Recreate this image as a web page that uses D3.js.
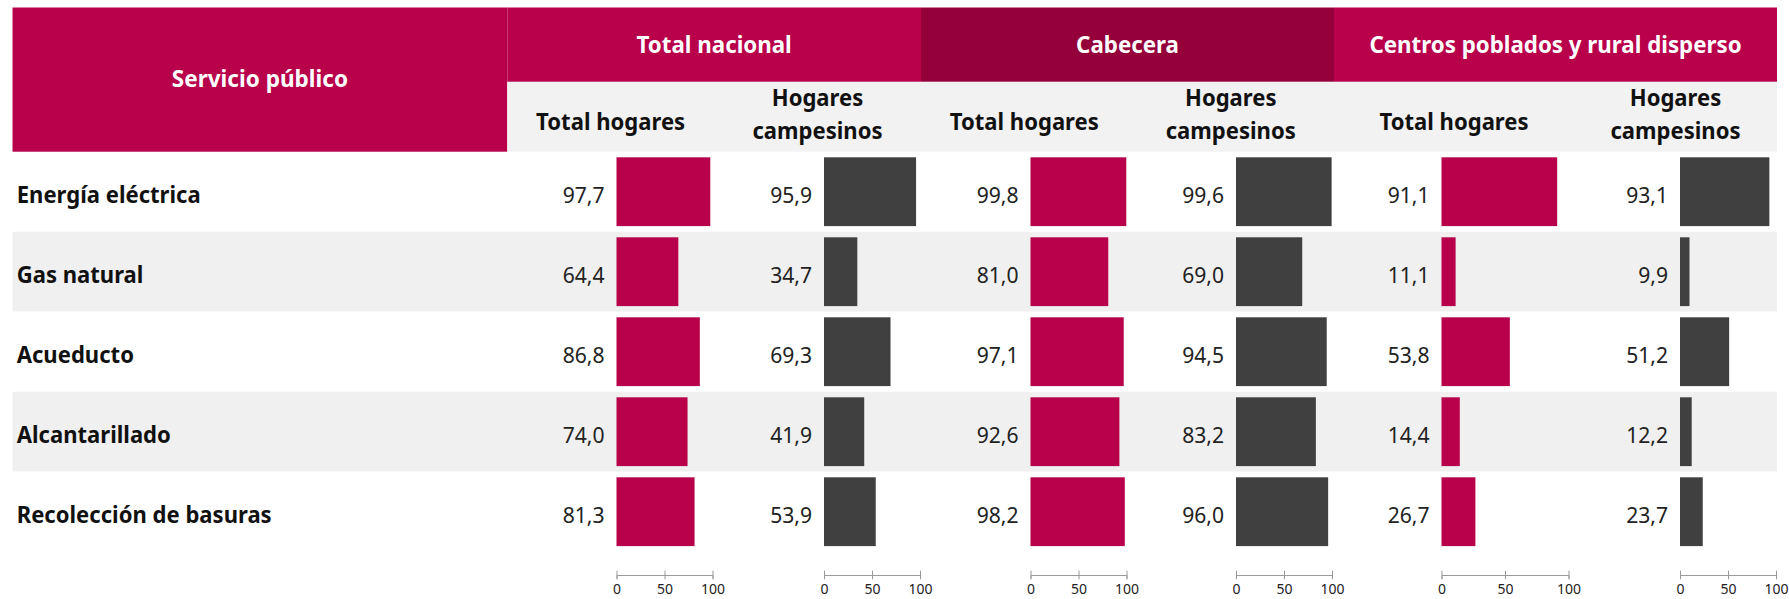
<!DOCTYPE html>
<html>
<head>
<meta charset="utf-8">
<script src="https://cdn.jsdelivr.net/npm/d3@7"></script>
<style>
	html, body { margin: 0; padding: 0; background: #ffffff; }
	svg text { font-family: "Segoe UI", "Noto Sans", "Open Sans", sans-serif; }
</style>
</head>
<body>
<svg id="chart" width="1789" height="599"></svg>
<script>
var services = ['Energía eléctrica', 'Gas natural', 'Acueducto', 'Alcantarillado', 'Recolección de basuras'];
var groups = ['Total nacional', 'Cabecera', 'Centros poblados y rural disperso'];
var subHeaders = [['Total hogares'], ['Hogares', 'campesinos']];

var nacionalTotal = [97.7, 64.4, 86.8, 74.0, 81.3];
var nacionalCampesinos = [95.9, 34.7, 69.3, 41.9, 53.9];
var cabeceraTotal = [99.8, 81.0, 97.1, 92.6, 98.2];
var cabeceraCampesinos = [99.6, 69.0, 94.5, 83.2, 96.0];
var ruralTotal = [91.1, 11.1, 53.8, 14.4, 26.7];
var ruralCampesinos = [93.1, 9.9, 51.2, 12.2, 23.7];

var axisTicks = [0, 50, 100];

var RED = '#b8004b';
var DARKRED = '#95003b';
var BARGREY = '#404040';

// layout of the table (pixels)
var tblLeft = 12.5, tblRight = 1777;
var headTop = 7.5, bandBottom = 81.7, headBottom = 151.7, tableBottom = 551.7;
var groupEdges = [507.3, 921, 1334, tblRight];
// one entry per sub column: edges, start of bars, width of 0..100
var cols = [
	{group: 0, sub: 0, x0: 507.3, x1: 714, bar: 616.5, w: 96, color: RED, values: nacionalTotal},
	{group: 0, sub: 1, x0: 714, x1: 921, bar: 824, w: 96, color: BARGREY, values: nacionalCampesinos},
	{group: 1, sub: 0, x0: 921, x1: 1127.5, bar: 1030.5, w: 96, color: RED, values: cabeceraTotal},
	{group: 1, sub: 1, x0: 1127.5, x1: 1334, bar: 1236, w: 96, color: BARGREY, values: cabeceraCampesinos},
	{group: 2, sub: 0, x0: 1334, x1: 1574, bar: 1441.5, w: 127, color: RED, values: ruralTotal},
	{group: 2, sub: 1, x0: 1574, x1: tblRight, bar: 1680, w: 96, color: BARGREY, values: ruralCampesinos}
];

var fmt = d3.formatLocale({decimal: ',', thousands: '.', grouping: [3], currency: ['', '']}).format('.1f');

var svg = d3.select('#chart');

function addText(parent, x, y, str, size, weight, anchor, fill, sx){
	return parent.append('text')
		.attr('transform', 'translate(' + x + ',' + y + ') scale(' + sx + ',1)')
		.attr('text-anchor', anchor)
		.attr('fill', fill)
		.style('font-size', size + 'px')
		.style('font-weight', weight)
		.text(str);
}

var rows = d3.scaleBand()
	.domain(services)
	.range([headBottom, tableBottom]);

// row backgrounds
svg.append('g').selectAll('rect')
	.data(services)
	.enter().append('rect')
	.attr('x', tblLeft)
	.attr('y', function(d){ return rows(d); })
	.attr('width', tblRight - tblLeft)
	.attr('height', rows.bandwidth())
	.attr('fill', function(d, i){ return i % 2 == 1 ? '#f0f0f0' : '#ffffff'; });

// header
var head = svg.append('g');
head.append('rect')
	.attr('x', tblLeft).attr('y', headTop)
	.attr('width', groupEdges[0] - tblLeft).attr('height', headBottom - headTop)
	.attr('fill', RED);
addText(head, (tblLeft + groupEdges[0]) / 2, 86.7, 'Servicio público', 24, 700, 'middle', '#ffffff', 0.94);

head.append('rect')
	.attr('x', groupEdges[0]).attr('y', bandBottom)
	.attr('width', tblRight - groupEdges[0]).attr('height', headBottom - bandBottom)
	.attr('fill', '#f2f2f2');

for (var g = 0; g < groups.length; g++){
	head.append('rect')
		.attr('x', groupEdges[g]).attr('y', headTop)
		.attr('width', groupEdges[g + 1] - groupEdges[g]).attr('height', bandBottom - headTop)
		.attr('fill', g == 1 ? DARKRED : RED);
	addText(head, (groupEdges[g] + groupEdges[g + 1]) / 2, 53.4, groups[g], 24, 700, 'middle', '#ffffff', 0.93);
}

cols.forEach(function(c){
	var lines = subHeaders[c.sub];
	var cx = (c.x0 + c.x1) / 2;
	if (lines.length == 1){
		addText(head, cx, 130, lines[0], 24, 700, 'middle', '#111111', 0.92);
	}else{
		addText(head, cx, 106, lines[0], 24, 700, 'middle', '#111111', 0.92);
		addText(head, cx, 139, lines[1], 24, 700, 'middle', '#111111', 0.92);
	}
});

// category labels
var labels = svg.append('g');
services.forEach(function(s){
	addText(labels, 16.7, rows(s) + 51.6, s, 24, 700, 'start', '#111111', 0.92);
});

// bars, values and axes
cols.forEach(function(c){
	var x = d3.scaleLinear().domain([0, 100]).range([c.bar, c.bar + c.w]);
	var gc = svg.append('g');

	gc.selectAll('rect')
		.data(c.values)
		.enter().append('rect')
		.attr('x', x(0))
		.attr('y', function(d, i){ return rows(services[i]) + 5.6; })
		.attr('width', function(d){ return x(d) - x(0); })
		.attr('height', rows.bandwidth() - 11.2)
		.attr('fill', c.color);

	c.values.forEach(function(v, i){
		addText(gc, x(0) - 12, rows(services[i]) + 51.6, fmt(v), 22, 400, 'end', '#222222', 0.96);
	});

	var axis = gc.append('g')
		.attr('transform', 'translate(0,575)')
		.call(d3.axisBottom(x).tickValues(axisTicks).tickSizeOuter(0).tickSize(4));
	axis.select('.domain').attr('stroke', '#9a9a9a');
	axis.selectAll('.tick line').attr('y1', -4.3).attr('y2', 4.3).attr('stroke', '#9a9a9a');
	axis.selectAll('.tick text')
		.attr('y', 9)
		.attr('fill', '#222222')
		.style('font-size', '14px')
		.style('font-family', '"Segoe UI", "Noto Sans", sans-serif');
});
</script>
</body>
</html>
